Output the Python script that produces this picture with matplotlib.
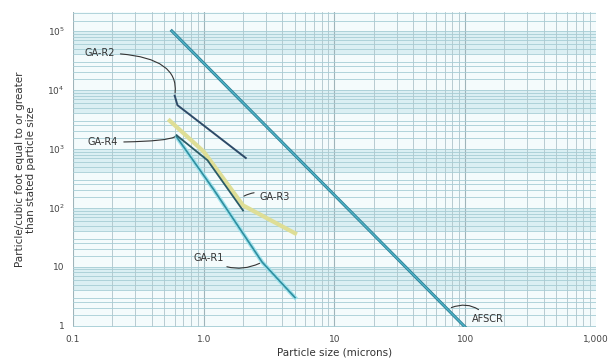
import matplotlib
matplotlib.use("Agg")
import matplotlib.pyplot as plt
import numpy as np

# ---- data ----
afscr_x = [0.57, 100]
afscr_y = [1.0e5, 0.95]

ga_r2_x = [0.60, 0.63, 2.1]
ga_r2_y = [8000, 5500, 700]

ga_r4_x = [0.62, 1.07, 2.0]
ga_r4_y = [1700, 640, 90]

ga_r3_x = [0.55, 1.0, 2.0, 5.0]
ga_r3_y = [3000, 900, 110, 37]

ga_r1_x = [0.62, 1.2, 2.8, 5.0]
ga_r1_y = [1600, 200, 12, 3]

x_ticks = [0.1, 1, 10, 100, 1000]
x_tick_labels = ["0.1", "1.0", "10", "100", "1,000"]
y_ticks = [1, 10, 100, 1000, 10000, 100000]
y_tick_labels = ["1", "10", r"$10^2$", r"$10^3$", r"$10^4$", r"$10^5$"]

fig = plt.figure(figsize=(6.08, 3.61), dpi=100)
ax = fig.add_axes([0.120, 0.094, 0.860, 0.873])
ax.set_xscale("log")
ax.set_yscale("log")
ax.set_xlim(0.1, 1000)
ax.set_ylim(0.95, 2.1e5)
ax.set_facecolor("#f4fbfc")

# graph-paper look
for e in range(-1, 6):
    ax.axhspan(4 * 10**e, 10**(e + 1), color="#dbeff3", lw=0, zorder=0)
for e in range(-1, 3):
    for m in range(1, 10):
        v = m * 10**e
        ax.axvline(v, color="#9fb4ba" if m == 1 else "#aec4ca", lw=0.8 if m == 1 else 0.6, zorder=1)
for e in range(0, 6):
    for m in [1, 1.5, 2, 2.5, 3, 4, 5, 6, 7, 8, 9]:
        v = m * 10**e
        ax.axhline(v, color="#a6cdd5", lw=0.6, zorder=1)

# lines
ax.plot(afscr_x, afscr_y, color="#2c7f96", lw=2.2, zorder=3)
ax.plot(afscr_x, afscr_y, color="#4fb3c6", lw=1.0, zorder=3)
ax.plot(ga_r3_x, ga_r3_y, color="#dede96", lw=3.0, zorder=3)
ax.plot(ga_r1_x, ga_r1_y, color="#9fe2ec", lw=3.0, zorder=3)
ax.plot(ga_r1_x, ga_r1_y, color="#2f8ea0", lw=1.2, zorder=4)
ax.plot(ga_r4_x, ga_r4_y, color="#2a5a66", lw=1.3, zorder=4)
ax.plot(ga_r2_x, ga_r2_y, color="#2d4a68", lw=1.4, zorder=4)

# labels with curly arrows
tc = "#333333"
ap = dict(arrowstyle="-", color="#333333", lw=0.8)
ax.annotate("GA-R2", xy=(0.60, 8000), xytext=(0.16, 42000), fontsize=7, color=tc,
            ha="center", va="center", zorder=6,
            arrowprops=dict(ap, connectionstyle="angle3,angleA=0,angleB=80"))
ax.annotate("GA-R4", xy=(0.62, 1750), xytext=(0.17, 1300), fontsize=7, color=tc,
            ha="center", va="center", zorder=6,
            arrowprops=dict(ap, connectionstyle="angle3,angleA=0,angleB=100"))
ax.annotate("GA-R3", xy=(1.95, 150), xytext=(3.5, 150), fontsize=7, color=tc,
            ha="center", va="center", zorder=6,
            arrowprops=dict(ap, connectionstyle="arc3,rad=0.3"))
ax.annotate("GA-R1", xy=(2.8, 12), xytext=(1.1, 14), fontsize=7, color=tc,
            ha="center", va="center", zorder=6,
            arrowprops=dict(ap, connectionstyle="arc3,rad=0.3"))
ax.annotate("AFSCR", xy=(75, 1.95), xytext=(150, 1.3), fontsize=7, color=tc,
            ha="center", va="center", zorder=6,
            arrowprops=dict(ap, connectionstyle="arc3,rad=0.4"))

ax.set_xticks(x_ticks)
ax.set_xticklabels(x_tick_labels)
ax.set_yticks(y_ticks)
ax.set_yticklabels(y_tick_labels)
ax.xaxis.set_minor_locator(matplotlib.ticker.NullLocator())
ax.yaxis.set_minor_locator(matplotlib.ticker.NullLocator())
ax.tick_params(length=0, labelsize=6.5, labelcolor="#444444", pad=6)
for s in ax.spines.values():
    s.set_visible(False)

ax.set_xlabel("Particle size (microns)", fontsize=7.5, color="#333333", labelpad=2)
ax.set_ylabel("Particle/cubic foot equal to or greater\nthan stated particle size",
              fontsize=7.5, color="#333333", labelpad=8)

fig.savefig("out.png", dpi=100)
